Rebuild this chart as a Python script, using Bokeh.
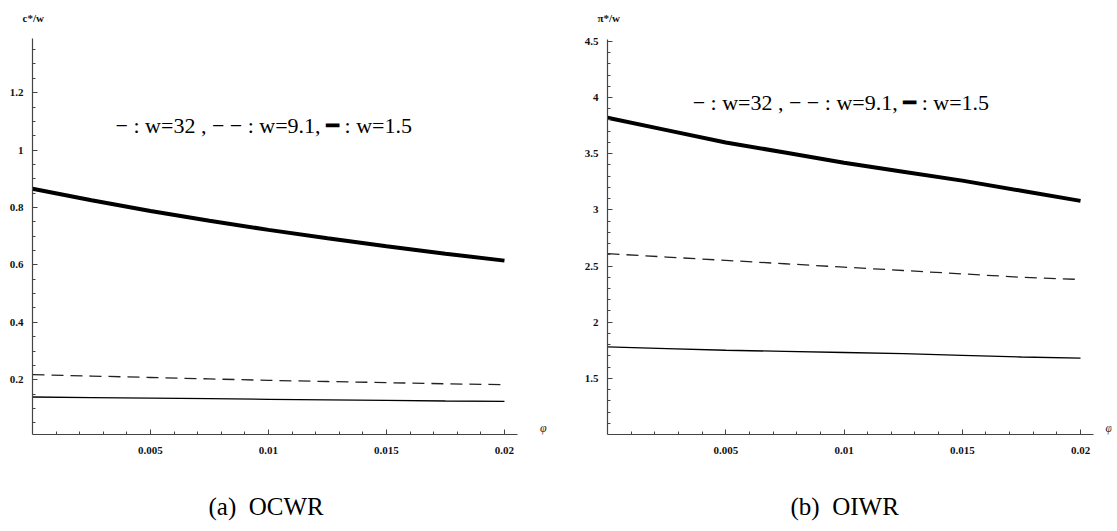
from bokeh.plotting import figure
from bokeh.layouts import row
from bokeh.models import Label, FixedTicker, Range1d, Title
from bokeh.embed import file_html
from bokeh.resources import INLINE

# ---- data ----
phi = [0.0, 0.0025, 0.005, 0.0075, 0.01, 0.0125, 0.015, 0.0175, 0.02]

# (a) OCWR : c*/w
c_w15 = [0.865, 0.825, 0.788, 0.754, 0.722, 0.693, 0.665, 0.639, 0.615]
c_w91 = [0.218, 0.213, 0.208, 0.203, 0.198, 0.194, 0.190, 0.186, 0.183]
c_w32 = [0.140, 0.138, 0.136, 0.134, 0.132, 0.130, 0.128, 0.126, 0.125]

# (b) OIWR : pi*/w
p_w15 = [3.82, 3.71, 3.60, 3.51, 3.42, 3.34, 3.26, 3.17, 3.08]
p_w91 = [2.61, 2.58, 2.55, 2.52, 2.49, 2.46, 2.43, 2.40, 2.38]
p_w32 = [1.78, 1.765, 1.75, 1.74, 1.73, 1.72, 1.705, 1.69, 1.68]

x_major = [0.005, 0.01, 0.015, 0.02]
x_minor = [round(0.001 * i, 3) for i in range(1, 21)]

a_major = [0.2, 0.4, 0.6, 0.8, 1.0, 1.2]
a_minor = [round(0.05 * i, 2) for i in range(1, 28)]
b_major = [1.5, 2.0, 2.5, 3.0, 3.5, 4.0, 4.5]
b_minor = [round(1.0 + 0.1 * i, 1) for i in range(1, 36)]

legend_text = "\u2212 : w=32 , \u2212 \u2212 : w=9.1, \u2501 : w=1.5"

SERIF = "Liberation Serif"
AXIS_COL = "#444444"


def style_axes(p, xb, yb, ymajor, yminor):
    p.xgrid.visible = False
    p.ygrid.visible = False
    p.outline_line_color = None
    p.xaxis.ticker = FixedTicker(ticks=x_major, minor_ticks=x_minor)
    p.yaxis.ticker = FixedTicker(ticks=ymajor, minor_ticks=yminor)
    p.xaxis.bounds = xb
    p.yaxis.bounds = yb
    for ax in (p.xaxis, p.yaxis):
        ax.axis_line_color = AXIS_COL
        ax.axis_line_width = 1.2
        ax.major_tick_line_color = AXIS_COL
        ax.minor_tick_line_color = AXIS_COL
        ax.major_tick_in = 5
        ax.major_tick_out = 0
        ax.minor_tick_in = 3
        ax.minor_tick_out = 0
        ax.major_label_text_font = SERIF
        ax.major_label_text_font_style = "bold"
        ax.major_label_text_font_size = "11px"
        ax.major_label_text_color = "#111111"
    p.xaxis.major_label_standoff = 12
    p.yaxis.major_label_standoff = 9
    p.yaxis.formatter.use_scientific = False
    p.xaxis.formatter.use_scientific = False
    # blank spacer label that pushes the caption further down
    p.xaxis.axis_label = " "
    p.xaxis.axis_label_text_font_size = "10px"
    p.xaxis.axis_label_standoff = 18


def make_panel(width, xr, yr, xb, yb, borders, series, ymajor, yminor,
               ylab, leg_xy, phi_xy, cap, cap_offset):
    p = figure(width=width, height=531, output_backend="svg",
               toolbar_location=None, x_range=Range1d(*xr),
               y_range=Range1d(*yr))
    p.min_border_left, p.min_border_right, p.min_border_top, p.min_border_bottom = borders
    p.title = Title(text=ylab, align="left", offset=-10, standoff=19,
                    text_font=SERIF, text_font_style="bold",
                    text_font_size="11px", text_color="#111111")
    style_axes(p, xb, yb, ymajor, yminor)
    thick, dashed, thin = series
    p.line(phi, thick, line_color="black", line_width=4)
    p.line(phi, dashed, line_color="#222222", line_width=1.3, line_dash="12 7")
    p.line(phi, thin, line_color="black", line_width=1.3)
    p.add_layout(Label(x=leg_xy[0], y=leg_xy[1], text=legend_text,
                       text_font=SERIF, text_font_size="22px",
                       text_color="black",
                       text_align="left", text_baseline="middle"))
    p.add_layout(Label(x=phi_xy[0], y=phi_xy[1], text="\u03c6",
                       text_font=SERIF, text_font_style="italic",
                       text_font_size="12px", text_align="center",
                       text_color="#222222", text_baseline="bottom"))
    p.add_layout(Title(text=cap, align="left", offset=cap_offset,
                       text_font=SERIF, text_font_size="25px",
                       text_color="black",
                       text_font_style="normal", standoff=4), "below")
    return p


pa = make_panel(558, (0.0, 0.02212), (0.0094, 1.406), (0.0, 0.02055), (0.0094, 1.39),
                (32, 4, 0, 96),
                (c_w15, c_w91, c_w32), a_major, a_minor,
                "c*/w", (0.00352, 1.084), (0.02165, 0.0094),
                "(a)\u00a0\u00a0OCWR", 176)
pb = make_panel(557, (0.0, 0.02131), (1.0, 4.57), (0.0, 0.02055), (1.0, 4.52),
                (49, 4, 0, 97),
                (p_w15, p_w91, p_w32), b_major, b_minor,
                "\u03c0*/w", (0.0036, 3.956), (0.0212, 1.0),
                "(b)\u00a0\u00a0OIWR", 183)

layout = row(pa, pb)
open("out.html", "w").write(file_html(layout, INLINE))
